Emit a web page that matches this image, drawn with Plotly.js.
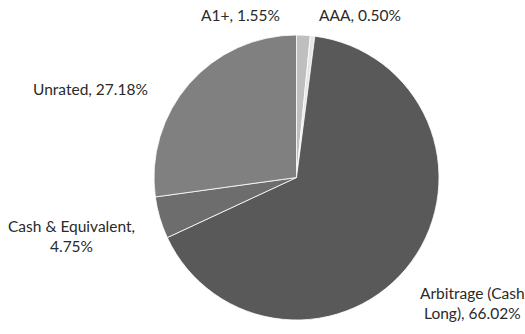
<!DOCTYPE html>
<html>
<head>
<meta charset="utf-8">
<script src="https://cdn.plot.ly/plotly-3.0.1.min.js"></script>
<style>html,body{margin:0;padding:0;background:#fff}#chart{width:525px;height:334px}</style>
</head>
<body>
<div id="chart"></div>
<script>
const labels = ["A1+", "AAA", "Arbitrage (Cash Long)", "Cash & Equivalent", "Unrated"];
const values = [1.55, 0.50, 66.02, 4.75, 27.18];
const colors = ["#bfbfbf", "#e6e6e6", "#595959", "#6d6d6d", "#808080"];
// label text lines (as shown in chart)
const labelTexts = ["A1+, 1.55%", "AAA, 0.50%", "Arbitrage (Cash<br>Long), 66.02%", "Cash & Equivalent,<br>4.75%", "Unrated, 27.18%"];
// label anchor positions (paper coords)
const labelX = [240, 360, 472, 71, 90];
const labelY = [15, 15, 303, 236, 89];

const W = 525, H = 334;
const cx = 296.5, cy = 177.5, r = 142.5;

const annotations = labelTexts.map((t, i) => ({
  text: t,
  x: labelX[i] / W,
  y: 1 - labelY[i] / H,
  xref: "paper", yref: "paper",
  xanchor: "center", yanchor: "middle",
  showarrow: false,
  align: "center",
  font: {family: "Lato, Open Sans, sans-serif", size: 15.5, color: "#2a2a2a"}
}));

const data = [{
  type: "pie",
  labels: labels,
  values: values,
  sort: false,
  direction: "clockwise",
  rotation: 0,
  textinfo: "none",
  hoverinfo: "label+percent",
  marker: {colors: colors, line: {color: "#ffffff", width: 0.8}},
  domain: {x: [(cx - r) / W, (cx + r) / W], y: [1 - (cy + r) / H, 1 - (cy - r) / H]}
}];

const layout = {
  width: W, height: H,
  margin: {l: 0, r: 0, t: 0, b: 0},
  paper_bgcolor: "#ffffff",
  showlegend: false,
  annotations: annotations
};

Plotly.newPlot("chart", data, layout, {displayModeBar: false, staticPlot: true});
</script>
</body>
</html>
